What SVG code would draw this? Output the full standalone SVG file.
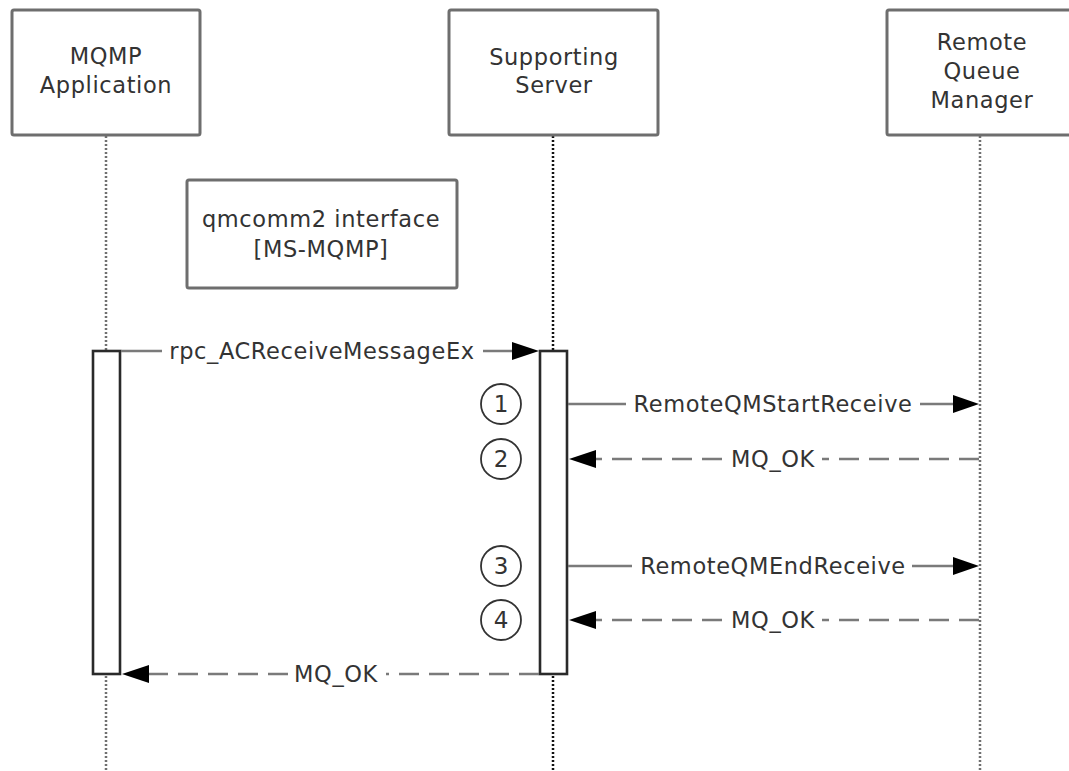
<svg xmlns="http://www.w3.org/2000/svg" width="1069" height="771" viewBox="0 0 1069 771">
<style>
text{font-family:"DejaVu Sans","Verdana",sans-serif;font-size:22.5px;fill:#333;letter-spacing:0.6px;text-anchor:middle}
.box{fill:#fff;stroke:#6e6e6e;stroke-width:3}
.life{stroke-width:2.5;stroke-dasharray:2 2;fill:none}
.act{fill:#fff;stroke:#2a2a2a;stroke-width:2.6}
.msg{stroke:#7a7a7a;stroke-width:2.5;fill:none}
.ret{stroke:#7a7a7a;stroke-width:2.5;fill:none;stroke-dasharray:20 10}
.head{fill:#000}
.num{fill:#fff;stroke:#333;stroke-width:1.8}
.d{letter-spacing:0;font-size:23px}
</style>
<rect width="1069" height="771" fill="#fff"/>
<g id="lifelines">
<line class="life" x1="106" y1="136" x2="106" y2="771" stroke="#707070"/>
<line class="life" x1="553" y1="136" x2="553" y2="771" stroke="#111"/>
<line class="life" x1="980" y1="136" x2="980" y2="771" stroke="#707070"/>
</g>
<g id="mqmp-app">
<rect class="box" x="12" y="10" width="188" height="125" rx="2"/>
<text x="106" y="64">MQMP</text>
<text x="106" y="93">Application</text>
</g>
<g id="supporting-server">
<rect class="box" x="449" y="10" width="209" height="125" rx="2"/>
<text x="554" y="65">Supporting</text>
<text x="554" y="93">Server</text>
</g>
<g id="remote-qm">
<rect class="box" x="887" y="10" width="200" height="125" rx="2"/>
<text x="982" y="50">Remote</text>
<text x="982" y="79">Queue</text>
<text x="982" y="108">Manager</text>
</g>
<g id="interface-note">
<rect class="box" x="187" y="180" width="270" height="108" rx="2"/>
<text x="321" y="227">qmcomm2 interface</text>
<text x="321" y="257">[MS-MQMP]</text>
</g>
<g id="activations">
<rect class="act" x="93" y="351" width="27" height="323"/>
<rect class="act" x="540" y="351" width="27" height="323"/>
</g>
<g id="connectors">
<line class="msg" x1="121" y1="351" x2="162" y2="351"/>
<line class="msg" x1="483" y1="351" x2="512" y2="351"/>
<polygon class="head" points="512,342 539,351 512,360"/>
<text x="322" y="359">rpc_ACReceiveMessageEx</text>

<line class="msg" x1="568" y1="404" x2="626" y2="404"/>
<line class="msg" x1="920" y1="404" x2="953" y2="404"/>
<polygon class="head" points="953,395 979,404 953,413"/>
<text x="773" y="412">RemoteQMStartReceive</text>

<line class="ret" x1="979" y1="459" x2="822" y2="459"/>
<line class="ret" x1="722" y1="459" x2="596" y2="459"/>
<polygon class="head" points="596,450 569,459 596,468"/>
<text x="773" y="467">MQ_OK</text>

<line class="msg" x1="568" y1="566" x2="632" y2="566"/>
<line class="msg" x1="912" y1="566" x2="953" y2="566"/>
<polygon class="head" points="953,557 979,566 953,575"/>
<text x="773" y="574">RemoteQMEndReceive</text>

<line class="ret" x1="979" y1="620" x2="822" y2="620"/>
<line class="ret" x1="722" y1="620" x2="596" y2="620"/>
<polygon class="head" points="596,611 569,620 596,629"/>
<text x="773" y="628">MQ_OK</text>

<line class="ret" x1="539" y1="674" x2="386" y2="674"/>
<line class="ret" x1="288" y1="674" x2="148" y2="674"/>
<polygon class="head" points="149,665 122,674 149,683"/>
<text x="336" y="682">MQ_OK</text>
</g>
<g id="step-markers">
<circle class="num" cx="501" cy="404" r="20"/>
<text class="d" x="501" y="412">1</text>
<circle class="num" cx="501" cy="459" r="20"/>
<text class="d" x="501" y="467">2</text>
<circle class="num" cx="501" cy="566" r="20"/>
<text class="d" x="501" y="574">3</text>
<circle class="num" cx="501" cy="620" r="20"/>
<text class="d" x="501" y="628">4</text>
</g>
</svg>
